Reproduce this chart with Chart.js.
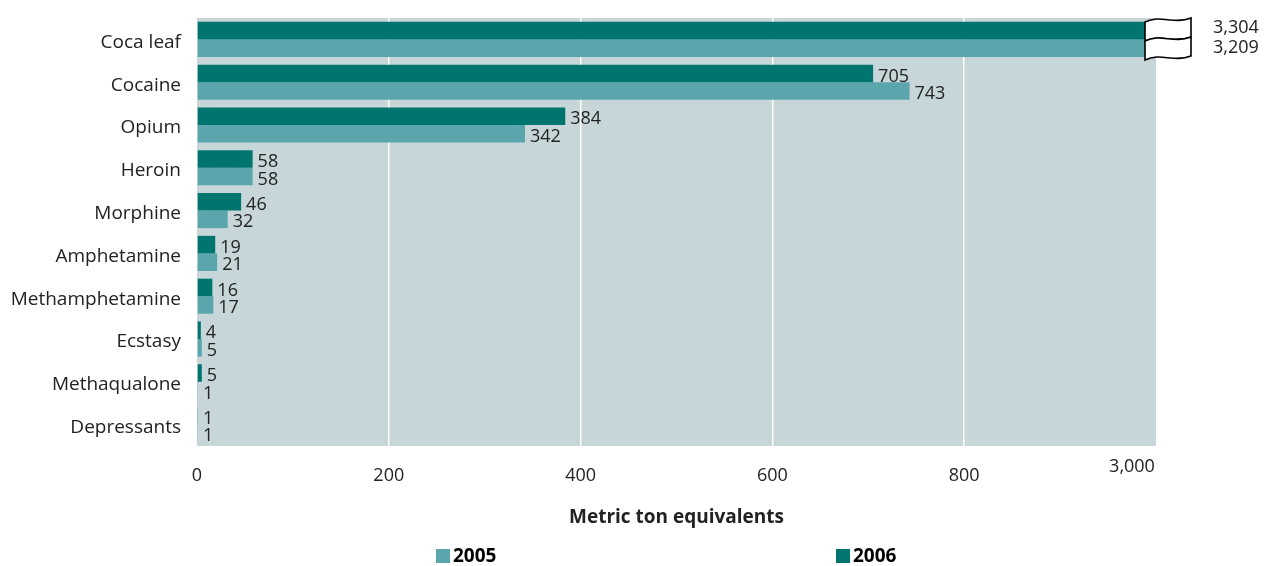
<!DOCTYPE html>
<html>
<head>
<meta charset="utf-8">
<style>
  html, body { margin: 0; padding: 0; background: #fff; }
  #wrap { width: 1264px; height: 566px; }
</style>
<script src="https://cdn.jsdelivr.net/npm/chart.js@4/dist/chart.umd.min.js"></script>
</head>
<body>
<div id="wrap"><canvas id="chart" width="1264" height="566"></canvas></div>
<script>
// Seizures by drug type, metric ton equivalents
const categories = ['Coca leaf', 'Cocaine', 'Opium', 'Heroin', 'Morphine',
  'Amphetamine', 'Methamphetamine', 'Ecstasy', 'Methaqualone', 'Depressants'];
const values2005 = [3209, 743, 342, 58, 32, 21, 17, 5, 1, 1];
const values2006 = [3304, 705, 384, 58, 46, 19, 16, 4, 5, 1];
const tickValues = [0, 200, 400, 600, 800, 1000];
const tickLabels = ['0', '200', '400', '600', '800', '3,000'];

const AXIS_MAX = 1000;   // axis is broken after 800, last tick stands for 3,000
const BREAK_CAP = 1006;  // bars above the break run just past the plot edge

const FONT = '"Open Sans", "Noto Sans", sans-serif';
const DARK = '#00746f';
const LIGHT = '#5ba5ad';
const PLOT_BG = '#c6d6d9';
const TEXT = '#222';

const capped = arr => arr.map(v => v > AXIS_MAX ? BREAK_CAP : v);
const fmt = v => v.toLocaleString('en-US');

// plot background
const plotBg = {
  id: 'plotBg',
  beforeDraw(chart) {
    const { ctx, chartArea: a } = chart;
    ctx.save();
    ctx.fillStyle = PLOT_BG;
    ctx.fillRect(a.left, a.top, a.right - a.left, a.bottom - a.top);
    ctx.restore();
  }
};

// value labels, break symbols, axis title, legend
const extras = {
  id: 'extras',
  afterDatasetsDraw(chart) {
    const { ctx, chartArea: a } = chart;
    const x = chart.scales.x;
    ctx.save();
    ctx.font = '18px ' + FONT;
    ctx.fillStyle = TEXT;
    ctx.textBaseline = 'middle';
    ctx.textAlign = 'left';

    const sets = [values2006, values2005];
    sets.forEach((vals, di) => {
      const meta = chart.getDatasetMeta(di);
      meta.data.forEach((bar, i) => {
        const v = vals[i];
        if (v > AXIS_MAX) return;
        ctx.fillText(fmt(v), bar.x + 5, bar.y + 3);
      });
    });

    // break symbols on the coca leaf bars
    const bx = x.getPixelForValue(AXIS_MAX) - 11;
    const w = 46;
    const top = a.top - 1;
    const h = 19;
    ctx.lineWidth = 1.6;
    ctx.strokeStyle = '#000';
    ctx.fillStyle = '#fff';
    for (let k = 0; k < 2; k++) {
      const y0 = top + k * h;
      ctx.beginPath();
      ctx.moveTo(bx, y0 + 5);
      ctx.bezierCurveTo(bx + 16, y0 - 3, bx + 28, y0 + 8, bx + w, y0 + 1);
      ctx.lineTo(bx + w, y0 + h + 1);
      ctx.bezierCurveTo(bx + 28, y0 + h + 8, bx + 16, y0 + h - 3, bx, y0 + h + 5);
      ctx.closePath();
      ctx.fill();
      ctx.stroke();
    }
    ctx.fillStyle = TEXT;
    ctx.fillText(fmt(values2006[0]), bx + 68, top + 11);
    ctx.fillText(fmt(values2005[0]), bx + 68, top + 31);

    // last tick label sits a little higher
    ctx.textAlign = 'center';
    ctx.fillText(tickLabels[tickLabels.length - 1], x.getPixelForValue(AXIS_MAX) - 24, 467);

    // axis title
    ctx.font = 'bold 19px ' + FONT;
    ctx.fillText('Metric ton equivalents', (a.left + a.right) / 2, 518);

    // legend
    const legend = [['2005', LIGHT, 436], ['2006', DARK, 836]];
    legend.forEach(([label, color, lx]) => {
      ctx.fillStyle = color;
      ctx.fillRect(lx, 549, 14, 14);
      ctx.fillStyle = '#000';
      ctx.textAlign = 'left';
      ctx.fillText(label, lx + 17, 557);
    });
    ctx.restore();
  }
};

new Chart(document.getElementById('chart'), {
  type: 'bar',
  data: {
    labels: categories,
    datasets: [
      { label: '2006', data: capped(values2006), backgroundColor: DARK, clip: false },
      { label: '2005', data: capped(values2005), backgroundColor: LIGHT, clip: false }
    ]
  },
  options: {
    indexAxis: 'y',
    responsive: false,
    animation: false,
    layout: { padding: { top: 18, right: 108, left: 0, bottom: 0 } },
    datasets: { bar: { categoryPercentage: 0.82, barPercentage: 1 } },
    plugins: {
      legend: { display: false },
      tooltip: { enabled: false }
    },
    scales: {
      x: {
        min: 0,
        max: AXIS_MAX,
        afterFit(scale) { scale.height = 120; },
        afterBuildTicks(scale) { scale.ticks = tickValues.map(v => ({ value: v })); },
        ticks: {
          padding: 19,
          font: { size: 18, family: FONT },
          color: TEXT,
          callback: (v) => v === AXIS_MAX ? '' : tickLabels[tickValues.indexOf(v)]
        },
        grid: {
          drawTicks: false,
          color: ctx => (ctx.tick && ctx.tick.value > 0 && ctx.tick.value < AXIS_MAX) ? '#ffffff' : 'rgba(0,0,0,0)',
          lineWidth: 1.5
        },
        border: { display: false }
      },
      y: {
        afterFit(scale) {
          scale.width = 197;
          scale.paddingTop = 0;
          scale.paddingBottom = 0;
        },
        ticks: {
          padding: 16,
          labelOffset: 3,
          font: { size: 19, family: FONT },
          color: TEXT
        },
        grid: { display: false, drawTicks: false },
        border: { display: false }
      }
    }
  },
  plugins: [plotBg, extras]
});
</script>
</body>
</html>
